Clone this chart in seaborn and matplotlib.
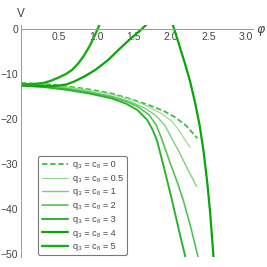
import matplotlib
matplotlib.use("Agg")
import matplotlib.pyplot as plt
import seaborn as sns
import pandas as pd
from matplotlib.ticker import MultipleLocator

# curve points (phi, V)
phi_q0 = [0.0, 0.3, 0.6, 0.9, 1.2, 1.45, 1.7, 1.9, 2.05, 2.2, 2.35]
v_q0 = [-12.0, -12.2, -12.7, -13.4, -14.3, -15.5, -16.9, -18.2, -19.6, -21.5, -24.3]

phi_q05 = [0.0, 0.3, 0.6, 0.9, 1.2, 1.45, 1.65, 1.85, 2.0, 2.1, 2.16, 2.25]
v_q05 = [-12.2, -12.4, -12.9, -13.6, -14.5, -15.6, -16.9, -18.6, -20.4, -22.4, -24.0, -26.3]

phi_q1 = [0.0, 0.3, 0.6, 0.9, 1.2, 1.45, 1.65, 1.8, 1.92, 2.02, 2.12, 2.22, 2.34]
v_q1 = [-12.3, -12.5, -13.1, -13.9, -14.9, -16.1, -17.6, -19.3, -21.5, -24.7, -27.8, -31.2, -35.0]

phi_q2 = [0.0, 0.3, 0.6, 0.9, 1.2, 1.4, 1.55, 1.7, 1.8, 1.88, 1.98, 2.08, 2.16, 2.26, 2.37]
v_q2 = [-12.5, -12.8, -13.3, -14.1, -15.1, -16.1, -17.2, -19.0, -21.3, -24.7, -29.5, -34.0,
        -38.0, -44.0, -51.5]

phi_q3 = [0.0, 0.3, 0.6, 0.9, 1.2, 1.4, 1.55, 1.68, 1.75, 1.81, 1.9, 2.01, 2.1, 2.2]
v_q3 = [-12.6, -12.9, -13.5, -14.3, -15.4, -16.6, -18.0, -20.2, -22.3, -24.7, -30.5, -38.0,
        -44.5, -51.5]

phi_q4 = [0.0, 0.3, 0.5, 0.61, 0.72, 0.85, 0.99, 1.16, 1.32, 1.47, 1.61, 1.7,
          1.85, 1.98, 2.04, 2.1, 2.18, 2.25, 2.32, 2.38, 2.43, 2.48, 2.52, 2.57]
v_q4 = [-12.5, -12.7, -12.6, -12.3, -11.6, -10.5, -9.1, -6.9, -4.3, -2.0, 0.0, 1.5,
        5.0, 3.0, 0.0, -3.2, -7.5, -11.5, -16.5, -21.5, -27.0, -34.0, -41.0, -52.0]

phi_q5 = [0.0, 0.15, 0.3, 0.4, 0.5, 0.6, 0.68, 0.76, 0.84, 0.92, 1.0, 1.02, 1.1]
v_q5 = [-12.3, -12.3, -12.0, -11.5, -10.8, -10.0, -9.1, -7.7, -5.9, -3.6, -0.8, 0.0, 3.0]

labels = ["q₃ = c₈ = 0", "q₃ = c₈ = 0.5", "q₃ = c₈ = 1", "q₃ = c₈ = 2",
          "q₃ = c₈ = 3", "q₃ = c₈ = 4", "q₃ = c₈ = 5"]
series = [(phi_q0, v_q0), (phi_q05, v_q05), (phi_q1, v_q1), (phi_q2, v_q2),
          (phi_q3, v_q3), (phi_q4, v_q4), (phi_q5, v_q5)]

colors = ["#3cbf3c", "#8fd88f", "#7ccf7c", "#55c255", "#2eb22e", "#0aa50a", "#1aab1a"]
widths = [1.3, 0.8, 1.0, 1.2, 1.4, 1.6, 1.7]
dashes = [(3, 1.5), None, None, None, None, None, None]

sns.set_style("white")
plt.rcParams["font.family"] = ["Liberation Sans", "DejaVu Sans"]
fig = plt.figure(figsize=(2.67, 2.67), dpi=100)
ax = fig.add_axes([21 / 267, 10 / 267, 232 / 267, 232.5 / 267])

for (px, vy), lab, c, w, d in zip(series, labels, colors, widths, dashes):
    df = pd.DataFrame({"phi": px, "V": vy})
    sns.lineplot(data=df, x="phi", y="V", ax=ax, color=c, lw=w, label=lab,
                 sort=False, estimator=None)
    if d is not None:
        ax.lines[-1].set_dashes(d)

ax.set_xlim(0, 3.09)
ax.set_ylim(-50.7, 1.0)
ax.set_xlabel("")
ax.set_ylabel("")

for s in ["top", "right"]:
    ax.spines[s].set_visible(False)
ax.spines["bottom"].set_position(("data", 0))
for s in ["left", "bottom"]:
    ax.spines[s].set_color("#999999")
    ax.spines[s].set_linewidth(0.7)

ax.xaxis.set_minor_locator(MultipleLocator(0.1))
ax.yaxis.set_major_locator(MultipleLocator(10))
ax.yaxis.set_minor_locator(MultipleLocator(2))
ax.set_xticks([0.5, 1.0, 1.5, 2.0, 2.5, 3.0])
ax.set_xticklabels(["0.5", "1.0", "1.5", "2.0", "2.5", "3.0"])
ax.tick_params(which="both", direction="in", color="#999999", width=0.6,
               labelsize=7.5, labelcolor="#444444", pad=2)
ax.tick_params(which="major", length=3)
ax.tick_params(which="minor", length=1.5)

fig.text(21 / 267, 1 - 14 / 267, "V", ha="center", va="center", fontsize=8.5, color="#444444")
fig.text(261 / 267, 1 - 30 / 267, "φ", ha="center", va="center", fontsize=9,
         style="italic", color="#444444", family=["DejaVu Sans"])

leg = ax.legend(loc="upper left", bbox_to_anchor=(38 / 267, 1 - 156 / 267),
                bbox_transform=fig.transFigure, borderaxespad=0, fontsize=6.5,
                handlelength=2.9, labelspacing=0.52, handletextpad=0.5,
                borderpad=0.45, frameon=True, fancybox=True, labelcolor="#444444")
leg.get_frame().set_edgecolor("#555555")
leg.get_frame().set_linewidth(0.8)

fig.savefig("out.png", dpi=100)
